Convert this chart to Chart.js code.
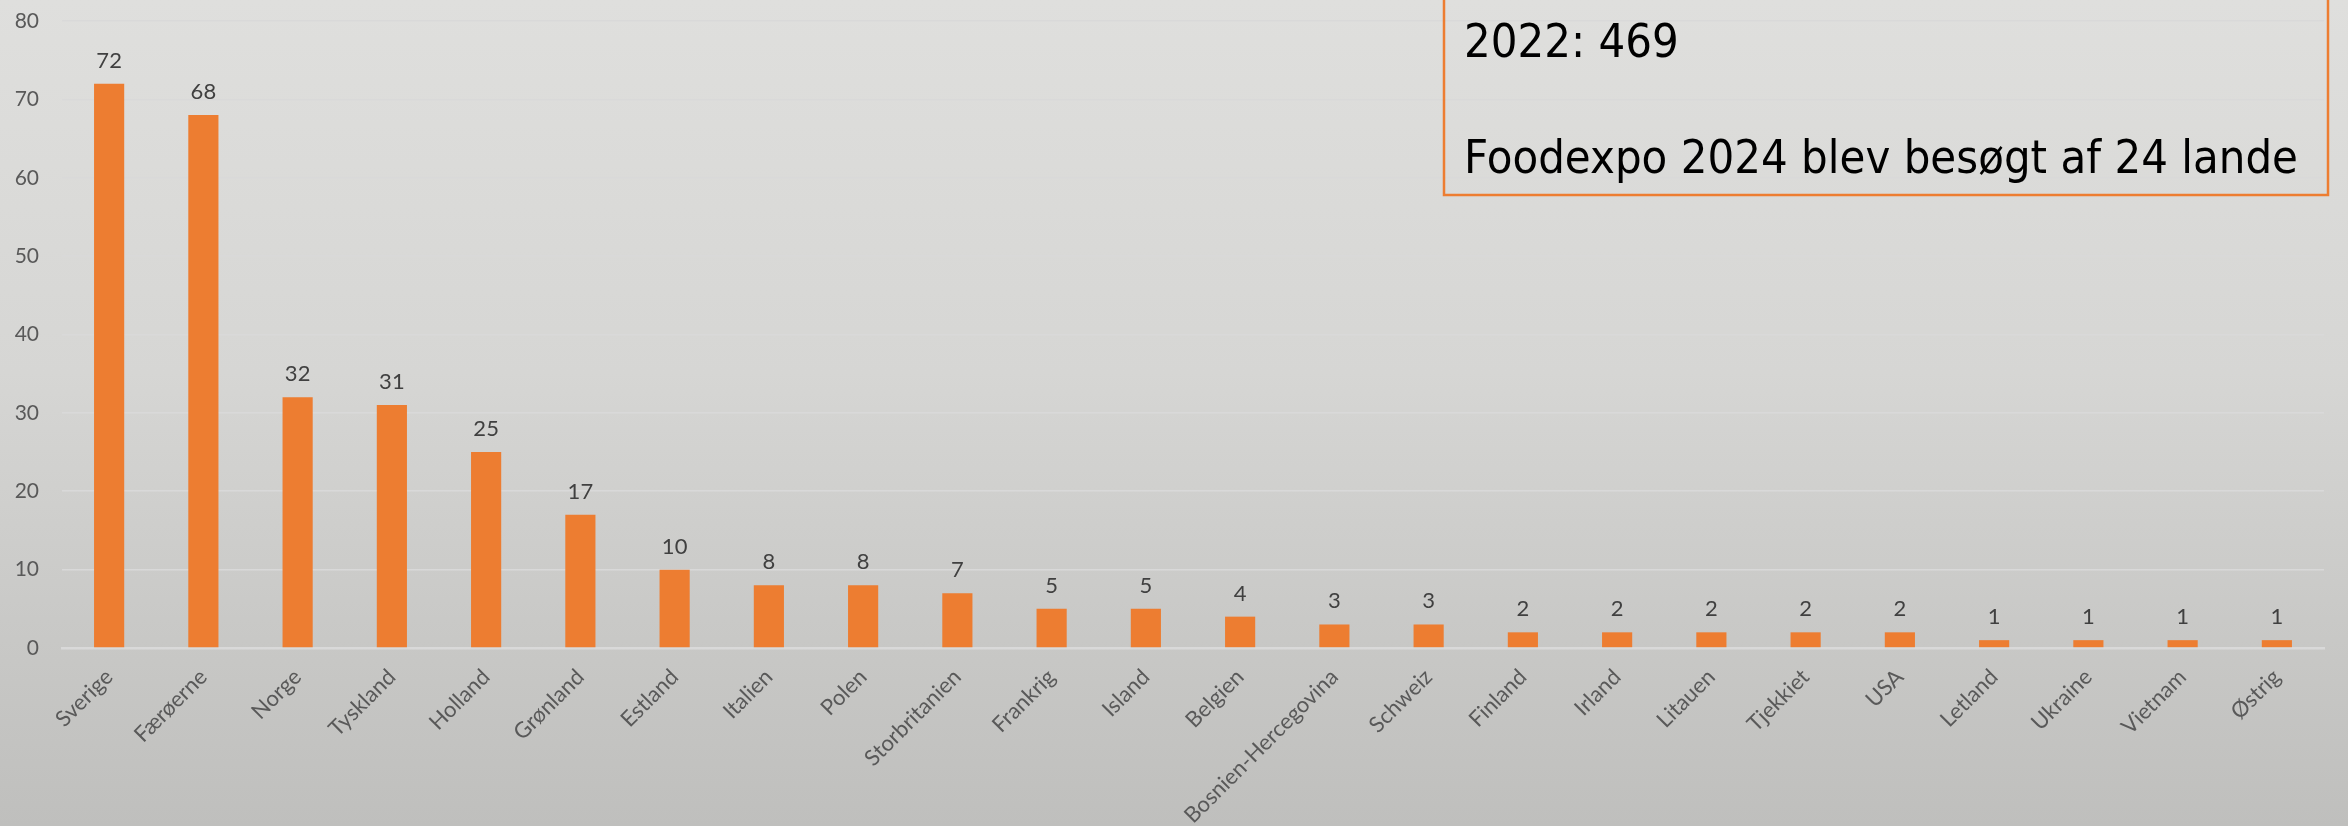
<!DOCTYPE html>
<html>
<head>
<meta charset="utf-8">
<script src="https://cdn.jsdelivr.net/npm/chart.js@4/dist/chart.umd.min.js"></script>
<style>
  html, body { margin: 0; padding: 0; }
  body {
    width: 2348px; height: 826px; overflow: hidden;
    background: linear-gradient(180deg, #dfdfdd 0%, #d6d6d4 45%, #c9c9c7 75%, #bfbfbd 100%);
  }
  canvas { display: block; }
</style>
</head>
<body>
<canvas id="c" width="2348" height="826"></canvas>
<script>
const countries = ["Sverige","Færøerne","Norge","Tyskland","Holland","Grønland","Estland","Italien","Polen","Storbritanien","Frankrig","Island","Belgien","Bosnien-Hercegovina","Schweiz","Finland","Irland","Litauen","Tjekkiet","USA","Letland","Ukraine","Vietnam","Østrig"];
const visitors = [72,68,32,31,25,17,10,8,8,7,5,5,4,3,3,2,2,2,2,2,1,1,1,1];
const yMin = 0, yMax = 80, yStep = 10;
const boxLines = ["2022: 469", "Foodexpo 2024 blev besøgt af 24 lande"];

const FONT = "Lato, 'Open Sans', sans-serif";

const dataLabels = {
  id: 'dataLabels',
  afterDatasetsDraw(chart) {
    const ctx = chart.ctx;
    const meta = chart.getDatasetMeta(0);
    ctx.save();
    ctx.font = "22px " + FONT;
    ctx.fillStyle = "#404040";
    ctx.textAlign = "center";
    ctx.textBaseline = "alphabetic";
    meta.data.forEach((bar, i) => {
      ctx.fillText(String(visitors[i]), bar.x, bar.y - 16);
    });
    ctx.restore();
  }
};

const textBox = {
  id: 'textBox',
  afterDraw(chart) {
    const ctx = chart.ctx;
    ctx.save();
    ctx.strokeStyle = "#ED7D31";
    ctx.lineWidth = 2.5;
    ctx.strokeRect(1444, -10, 2328 - 1444, 195 + 10);
    ctx.font = "46px 'DejaVu Sans', Verdana, sans-serif";
    ctx.fillStyle = "#000000";
    ctx.textBaseline = "alphabetic";
    const w = ctx.measureText(boxLines[1]).width;
    const sx = 834 / w;
    ctx.translate(1464, 0);
    ctx.scale(sx, 1);
    ctx.fillText(boxLines[0], 0, 57);
    ctx.fillText(boxLines[1], 0, 173);
    ctx.restore();
  }
};

new Chart(document.getElementById('c'), {
  type: 'bar',
  data: {
    labels: countries,
    datasets: [{
      data: visitors,
      backgroundColor: "#ED7D31",
      borderWidth: 0,
      categoryPercentage: 1.0,
      barPercentage: 0.32
    }]
  },
  options: {
    responsive: false,
    animation: false,
    layout: { padding: { top: 21, right: 24, left: 0, bottom: 0 } },
    plugins: { legend: { display: false }, tooltip: { enabled: false } },
    scales: {
      x: {
        grid: { display: false },
        border: { display: true, color: "#d9d9d9", width: 2.5 },
        ticks: {
          color: "#595959",
          font: { family: FONT, size: 22 },
          minRotation: 45, maxRotation: 45,
          autoSkip: false,
          padding: 8
        },
        afterFit(s) { s.height = 178; s.paddingLeft = 0; s.paddingRight = 0; }
      },
      y: {
        min: yMin, max: yMax,
        grid: { color: "#d9d9d9", lineWidth: 1.6, drawTicks: false },
        border: { display: false },
        ticks: {
          stepSize: yStep,
          color: "#595959",
          font: { family: FONT, size: 21 },
          padding: 23
        },
        afterFit(s) { s.width = 62; s.paddingTop = 0; s.paddingBottom = 0; }
      }
    }
  },
  plugins: [dataLabels, textBox]
});
</script>
</body>
</html>
